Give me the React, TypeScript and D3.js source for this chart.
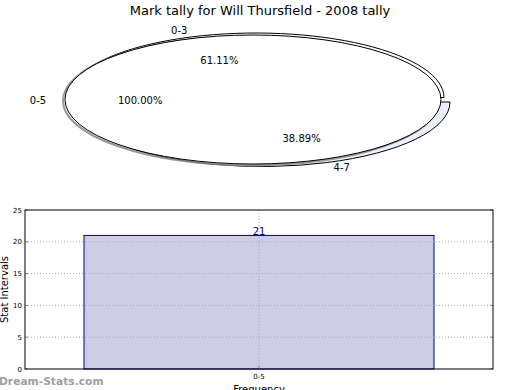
import React from "react";
import * as d3 from "d3";

const pieLabels = ["0-3", "4-7"];
const pieValues = [61.11, 38.89];
const fullLabel = "0-5";
const fullValue = 100.0;

const barCategories = ["0-5"];
const barValues = [21];
const yTicks = [0, 5, 10, 15, 20, 25];

const W = 520;
const H = 390;

export default function App() {
  const cx = 253, cy = 99.5, rx = 188, ry = 64.5;
  const arcGen = d3.arc<any>().innerRadius(0).outerRadius(1);
  const pieGen = d3.pie<number>().sort(null).startAngle(0).endAngle(2 * Math.PI);
  const slices = pieGen(pieValues);
  const offsets = [
    { dx: 3, dy: -2 },
    { dx: 9, dy: 2.5 },
  ];
  const labelNudge = [
    { lx: -3, ly: -3, px: 5, py: -3 },
    { lx: 18, ly: 1, px: 10, py: 2 },
  ];
  const fills = ["#ffffff", "#eaf0fc"];

  const m = { l: 25, r: 493, t: 210, b: 369 };
  const x = d3.scaleBand().domain(barCategories).range([m.l, m.r]).paddingInner(0).paddingOuter(0.1686);
  const y = d3.scaleLinear().domain([0, 25]).range([m.b, m.t]);
  const bw = x.bandwidth();

  const font = "DejaVu Sans, sans-serif";

  return (
    <svg width={W} height={H} style={{ position: "absolute", left: 0, top: 0 }} fontFamily={font}>
      <defs>
        <filter id="blur" x="-10%" y="-10%" width="120%" height="120%">
          <feGaussianBlur stdDeviation="0.7" />
        </filter>
      </defs>
      <rect width={W} height={H} fill="#fff" />
      <text x={260} y={15} textAnchor="middle" fontSize={13} fill="#000">
        Mark tally for Will Thursfield - 2008 tally
      </text>

      {slices.map((s, i) => {
        const a0 = Math.PI / 2 - s.endAngle;
        const a1 = Math.PI / 2 - s.startAngle;
        return (
          <g key={i} transform={`translate(${cx + offsets[i].dx},${cy + offsets[i].dy}) scale(${rx},${ry})`}>
            <path
              d={arcGen({ startAngle: a0, endAngle: a1 }) || ""}
              fill={fills[i]}
              stroke="#000"
              strokeWidth={1}
              vectorEffect="non-scaling-stroke"
            />
          </g>
        );
      })}

      <ellipse cx={cx - 2} cy={cy + 1.2} rx={rx} ry={ry} fill="none" stroke="#888" strokeWidth={2.2} filter="url(#blur)" opacity={0.85} />
      <ellipse cx={cx} cy={cy} rx={rx} ry={ry} fill="#fff" stroke="#000" strokeWidth={1} />

      {slices.map((s, i) => {
        const mid = (s.startAngle + s.endAngle) / 2;
        const lx = cx + Math.cos(mid) * rx * 1.1 + labelNudge[i].lx;
        const ly = cy - Math.sin(mid) * ry * 1.1 + labelNudge[i].ly;
        const px = cx + Math.cos(mid) * rx * 0.6 + labelNudge[i].px;
        const py = cy - Math.sin(mid) * ry * 0.6 + labelNudge[i].py;
        return (
          <g key={"l" + i} fontSize={10} fill="#000">
            <text x={lx} y={ly + 4} textAnchor="middle">{pieLabels[i]}</text>
            <text x={px} y={py + 4} textAnchor="middle">{s.data.toFixed(2)}%</text>
          </g>
        );
      })}
      <text x={cx - rx * 1.1} y={cy + 4} textAnchor="end" fontSize={10} fill="#000">{fullLabel}</text>
      <text x={cx - rx * 0.6} y={cy + 4} textAnchor="middle" fontSize={10} fill="#000">{fullValue.toFixed(2)}%</text>

      <g>
        {yTicks.map((t) => (
          <g key={t}>
            <line x1={m.l} x2={m.l + 3} y1={y(t)} y2={y(t)} stroke="#888" />
            <line x1={m.r - 3} x2={m.r} y1={y(t)} y2={y(t)} stroke="#888" />
            <text x={m.l - 3} y={y(t) + 2.5} textAnchor="end" fontSize={7} fill="#000">{t}</text>
          </g>
        ))}
        {barCategories.map((c, i) => (
          <rect
            key={c}
            x={x(c)!}
            y={y(barValues[i])}
            width={bw}
            height={y(0) - y(barValues[i])}
            fill="#ccccE6"
            stroke="#000080"
            strokeWidth={1}
          />
        ))}
        {yTicks.filter((t) => t > 0 && t < 25).map((t) => (
          <line key={"g" + t} x1={m.l} x2={m.r} y1={y(t)} y2={y(t)} stroke="#aaaaaa" strokeWidth={1} strokeDasharray="1,2" />
        ))}
        {barCategories.map((c) => {
          const xc = x(c)! + bw / 2;
          return (
            <g key={"x" + c}>
              <line x1={xc} x2={xc} y1={m.t} y2={m.b} stroke="#aaaaaa" strokeDasharray="1,2" />
              <line x1={xc} x2={xc} y1={m.b - 3} y2={m.b} stroke="#888" />
              <text x={xc} y={m.b + 10} textAnchor="middle" fontSize={7} fill="#000">{c}</text>
            </g>
          );
        })}
        {barCategories.map((c, i) => (
          <text key={"v" + c} x={x(c)! + bw / 2} y={y(barValues[i]) - 0.5} textAnchor="middle" fontSize={10} fill="#000080">
            {barValues[i]}
          </text>
        ))}
        <rect x={m.l} y={m.t} width={m.r - m.l} height={m.b - m.t} fill="none" stroke="#000" strokeWidth={1} />
        <text x={259} y={393} textAnchor="middle" fontSize={10} fill="#000">Frequency</text>
        <text transform={`translate(8,${(m.t + m.b) / 2}) rotate(-90)`} textAnchor="middle" fontSize={10} fill="#000">
          Stat Intervals
        </text>
      </g>
      <text x={-1} y={385} fontSize={10.7} fontWeight="bold" fill="#a0a0a0">Dream-Stats.com</text>
    </svg>
  );
}
